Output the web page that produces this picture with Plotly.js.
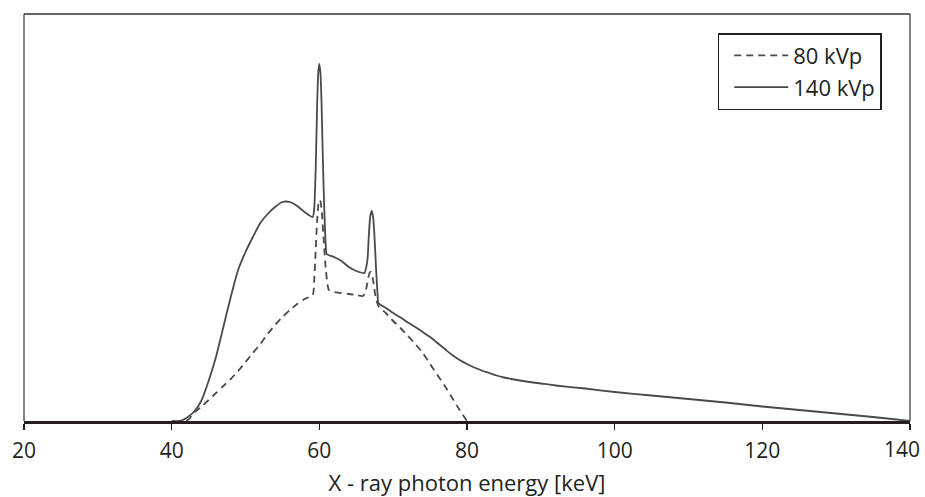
<!DOCTYPE html>
<html>
<head>
<meta charset="utf-8">
<script src="https://cdn.plot.ly/plotly-3.0.1.min.js"></script>
<style>
html,body{margin:0;padding:0;background:#fff;}
#chart{width:925px;height:497px;}
</style>
</head>
<body>
<div id="chart"></div>
<script>
// X-ray photon energy [keV]
const energy140 = [40,41,41.5,42,43,44,45,46,47,48,49,50,51,52,53,54,55,56,57,58,59.1,59.3,59.5,59.7,59.85,60.0,60.15,60.3,60.5,60.7,60.9,61.0,62,63,64,65,66.1,66.5,66.7,66.9,67.1,67.3,67.5,67.7,67.9,68.0,69,70,71,72,73,74,75,76,77,78,79,80,81,82,83,84,85,86,88,90,92,96,100,105,110,115,120,125,130,135,140];
// relative photon intensity (arbitrary units)
const intensity140 = [0,0,1,3,9,20,40,64,94,124,151,169,184,198,207,214,219,219,215,209,204,212,250,315,348,357,348,318,255,205,172,167,164,160,154,150,148,160,185,205,210,203,180,150,125,118,113,108,103.5,98.5,94,89,84,78,72,66,61,57,53.5,50.5,48,45.5,43.5,42,39.5,37.5,35.5,32.5,29,25.5,22,18.5,14.5,11,7.5,4,0];

const energy80 = [42,42.5,43,44,45,46,47,48,49,50,51,52,53,54,55,56,57,58,59.1,59.3,59.5,59.7,59.9,60.1,60.3,60.6,60.9,61.3,62,63,64,65,65.9,66.2,66.5,66.8,67.0,67.3,67.6,68,69,70,71,72,73,74,75,76,77,78,79,80];
const intensity80 = [0,3,8,14,21,28,35,42,50,59,68,77,87,96,104,111,117,122,126,140,170,200,218,221,212,180,150,131,129,128,127,126,125,128,138,148,149,140,125,115,108,100,93,85,77,68,57,46,35,23,11,0];

const xTicks = [20,40,60,80,100,120,140];
const xTickLabels = ['20','40','60','80','100','120','140'];
const seriesNames = ['80 kVp','140 kVp'];

// the last tick label sits at the page edge, so it is drawn right-aligned at its tick
const lastIdx = xTicks.length - 1;
const axisTickText = xTickLabels.map((t, i) => i === lastIdx ? '' : t);

const lineColor = '#4a4a4a';
const traces = [
  {x: energy80, y: intensity80, name: seriesNames[0], mode:'lines', legendgroup:'a',
   line:{color:lineColor, width:1.8, dash:'7px,5px', shape:'spline', smoothing:0.6}},
  {x: energy140, y: intensity140, name: seriesNames[1], mode:'lines', legendgroup:'b',
   line:{color:lineColor, width:1.8, shape:'spline', smoothing:0.6}}
];

const layout = {
  width:925, height:497,
  margin:{l:24, r:15, t:14, b:76, pad:0},
  paper_bgcolor:'#ffffff', plot_bgcolor:'#ffffff',
  font:{family:'"Open Sans", "Noto Sans", sans-serif', color:'#231f20', size:20},
  showlegend:true,
  legend:{x:0.783, y:0.953, xanchor:'left', yanchor:'top',
    bordercolor:'#231f20', borderwidth:1.5, bgcolor:'#ffffff',
    font:{size:22, color:'#231f20'}, itemwidth:54, tracegroupgap:0, indentation:10},
  xaxis:{range:[20,140], tickvals:xTicks, ticktext:axisTickText,
    showgrid:false, zeroline:false, showline:true, linecolor:'#231f20', linewidth:2.5,
    ticks:'outside', ticklen:6, tickwidth:1.5, tickcolor:'#231f20',
    ticklabeloverflow:'allow', automargin:false, ticklabelstandoff:3,
    tickfont:{size:21, color:'#231f20'},
    title:{text:'X - ray photon energy [keV]', font:{size:22, color:'#231f20'}, standoff:14}},
  yaxis:{range:[0,407], showgrid:false, zeroline:false, showticklabels:false,
    ticks:'', showline:false},
  annotations:[
    {x:xTicks[lastIdx], xref:'x', y:0, yref:'paper', text:xTickLabels[lastIdx],
     showarrow:false, xanchor:'right', yanchor:'middle', xshift:12, yshift:-28,
     font:{size:21, color:'#231f20'}}
  ],
  shapes:[
    {type:'line', xref:'paper', yref:'paper', x0:0, x1:1, y0:1, y1:1, line:{color:'#333333', width:1.5}},
    {type:'line', xref:'paper', yref:'paper', x0:0, x1:0, y0:0, y1:1, line:{color:'#333333', width:1.2}},
    {type:'line', xref:'paper', yref:'paper', x0:1, x1:1, y0:0, y1:1, line:{color:'#333333', width:1.2}}
  ]
};

Plotly.newPlot('chart', traces, layout, {displayModeBar:false, staticPlot:true});
</script>
</body>
</html>
